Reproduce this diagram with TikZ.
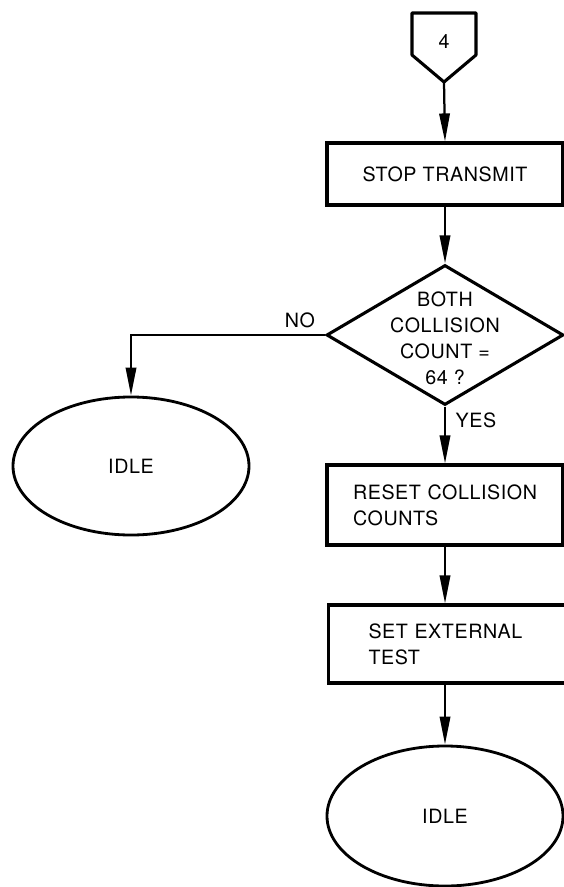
\documentclass[tikz,border=0pt]{standalone}
\usepackage{fontspec}
\setmainfont{TeX Gyre Heros}[LetterSpace=3]
\usepackage{tikz}
\usetikzlibrary{arrows.meta,shapes,positioning}
\tikzstyle{arrow} = [line width=1.6pt,-{Triangle[length=7mm,width=2.6mm]}]
\tikzstyle{stepbox} = [rectangle, draw, line width=2.2pt, minimum width=5.9cm]
\tikzstyle{idlebox} = [ellipse, draw, line width=2pt, minimum width=5.9cm, minimum height=3.45cm]

\begin{document}
\begin{tikzpicture}[font=\fontsize{14}{18.5}\selectfont]
\useasboundingbox (0,0) rectangle (14.075,-22.175);

% Off-page connector
\draw[line width=2.2pt, line join=round] (10.3,-0.325) -- (11.9,-0.325) -- (11.9,-1.375) -- (11.1,-2.05) -- (10.3,-1.375) -- cycle;
\node (conn) at (11.1,-1.05) {4};
\coordinate (conntip) at (11.1,-2.05);

% Main column
\node[stepbox, minimum height=1.55cm] (stop) at (11.125,-4.35) {STOP TRANSMIT};
\node[diamond, draw, line width=2.2pt, minimum width=5.925cm, minimum height=3.5cm, inner sep=0pt] (test) at (11.125,-8.375) {};
\node[align=center] (testtext) at (11.125,-8.45) {BOTH\\COLLISION\\COUNT =\\64 ?};
\node[stepbox, minimum height=2cm, text width=4.6cm, inner xsep=0.65cm, align=left] (reset) at (11.125,-12.625) {RESET COLLISION\\COUNTS};
\node[stepbox, minimum width=5.95cm, minimum height=1.95cm, text width=3.95cm, inner xsep=1cm, align=left] (setext) at (11.1875,-16.1) {SET EXTERNAL\\TEST};
\node[idlebox, minimum height=3.5cm] (idleb) at (11.125,-20.4) {IDLE};

% Side branch
\node[idlebox] (idlea) at (3.275,-11.65) {IDLE};

% Connectors
\draw[arrow] (conntip) -- (stop.north);
\draw[arrow] (stop.south) -- (test.north);
\draw[arrow] (test.west) -| (idlea.north);
\draw[arrow] (test.south) -- (reset.north);
\draw[arrow] (reset.south) -- (reset.south |- setext.north);
\draw[arrow] (reset.south |- setext.south) -- (idleb.north);

% Branch labels
\node (nolabel) at (7.5,-8.0) {NO};
\node (yeslabel) at (11.9,-10.5) {YES};
\end{tikzpicture}
\end{document}
